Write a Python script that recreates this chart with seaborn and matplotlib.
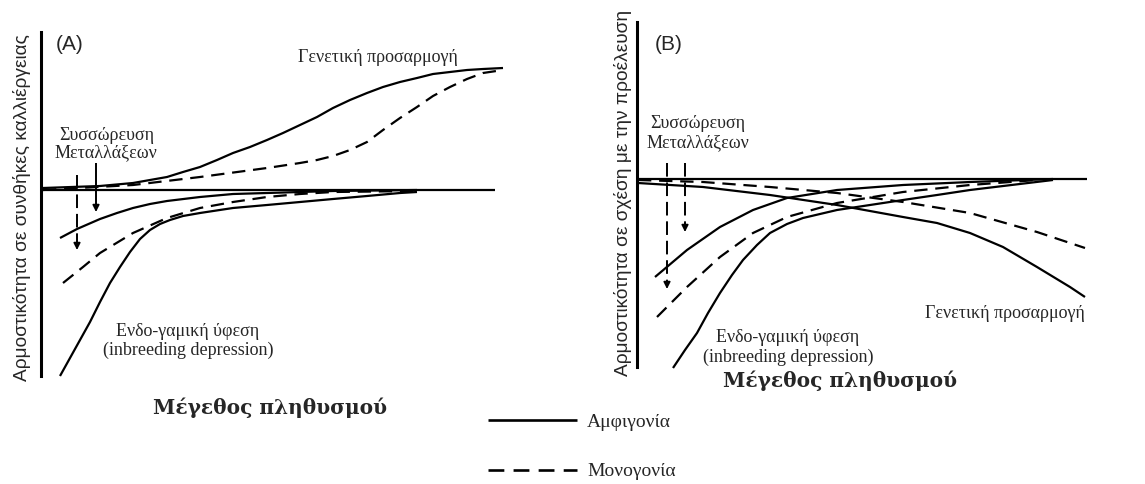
import numpy as np
import pandas as pd
import matplotlib
matplotlib.use("Agg")
import matplotlib.pyplot as plt
from matplotlib.lines import Line2D
import seaborn as sns

# ---- schematic fitness curves (population size vs. relative fitness, arbitrary units) ----
# Panel A: fitness under cultivation conditions
a_base_x = [0, 454]
a_base_y = [0, 0]
a_adapt_sex_x = [2, 59, 92, 109, 126, 142, 159, 176, 192, 209, 226, 242, 259, 276, 292, 309,
                 326, 342, 359, 376, 392, 409, 426, 442, 462]
a_adapt_sex_y = [2, 4, 7, 10, 13, 18, 23, 30, 37, 43, 50, 57, 65, 73, 82, 90,
                 97, 103, 108, 112, 116, 118, 120, 121, 122]
a_adapt_asex_x = [2, 92, 159, 226, 259, 276, 292, 309, 326, 342, 359, 376, 392, 409, 426, 442, 462]
a_adapt_asex_y = [0, 5, 13, 22, 27, 30, 34, 40, 48, 60, 72, 83, 94, 103, 111, 117, 120]
a_mut_sex_x = [19, 36, 59, 76, 92, 109, 126, 159, 192, 226, 292, 376]
a_mut_sex_y = [-48, -39, -29, -23, -18, -14, -11, -7, -4, -3, -1, 0]
a_mut_asex_x = [22, 42, 59, 92, 126, 159, 192, 226, 259, 292, 376]
a_mut_asex_y = [-93, -77, -63, -43, -28, -18, -12, -7, -4, -2, -1]
a_inbr_x = [19, 29, 39, 49, 59, 69, 79, 89, 99, 109, 119, 129, 142, 159, 192, 226, 259, 292,
            326, 359, 376]
a_inbr_y = [-186, -168, -150, -132, -112, -93, -77, -62, -49, -40, -34, -30, -26, -23, -18,
            -15, -12, -9, -6, -3, -2]

# Panel B: fitness relative to the source population
b_base_x = [0, 450]
b_base_y = [0, 0]
b_adapt_sex_x = [1, 66, 133, 200, 266, 300, 333, 366, 400, 433, 448]
b_adapt_sex_y = [-4, -8, -16, -26, -38, -44, -54, -68, -88, -108, -118]
b_adapt_asex_x = [1, 66, 133, 200, 266, 333, 400, 448]
b_adapt_asex_y = [-1, -3, -8, -14, -23, -34, -53, -69]
b_mut_sex_x = [18, 50, 83, 116, 150, 200, 266, 333, 416]
b_mut_sex_y = [-98, -71, -48, -31, -19, -11, -6, -3, 0]
b_mut_asex_x = [20, 50, 83, 116, 150, 200, 266, 333, 400]
b_mut_asex_y = [-138, -108, -78, -54, -38, -24, -13, -6, -1]
b_inbr_x = [36, 48, 60, 71, 83, 95, 106, 120, 133, 150, 166, 200, 233, 266, 300, 333, 416]
b_inbr_y = [-189, -171, -154, -134, -114, -96, -81, -66, -54, -45, -39, -31, -26, -21, -16,
            -11, -1]

mode_labels = ["Αμφιγονία", "Μονογονία"]

curves = [
    ("A", "base", mode_labels[0], a_base_x, a_base_y),
    ("A", "adapt_sex", mode_labels[0], a_adapt_sex_x, a_adapt_sex_y),
    ("A", "adapt_asex", mode_labels[1], a_adapt_asex_x, a_adapt_asex_y),
    ("A", "mut_sex", mode_labels[0], a_mut_sex_x, a_mut_sex_y),
    ("A", "mut_asex", mode_labels[1], a_mut_asex_x, a_mut_asex_y),
    ("A", "inbr", mode_labels[0], a_inbr_x, a_inbr_y),
    ("B", "base", mode_labels[0], b_base_x, b_base_y),
    ("B", "adapt_sex", mode_labels[0], b_adapt_sex_x, b_adapt_sex_y),
    ("B", "adapt_asex", mode_labels[1], b_adapt_asex_x, b_adapt_asex_y),
    ("B", "mut_sex", mode_labels[0], b_mut_sex_x, b_mut_sex_y),
    ("B", "mut_asex", mode_labels[1], b_mut_asex_x, b_mut_asex_y),
    ("B", "inbr", mode_labels[0], b_inbr_x, b_inbr_y),
]
rows = []
for panel, name, mode, xs, ys in curves:
    for i, (x, y) in enumerate(zip(xs, ys)):
        rows.append(dict(panel=panel, curve=name, mode=mode, x=x, y=y, order=i))
df = pd.DataFrame(rows)

sns.set_theme(style="white")
plt.rcParams["font.family"] = ["Liberation Serif", "DejaVu Serif"]
plt.rcParams["lines.solid_capstyle"] = "butt"

W, H = 1145, 484
fig = plt.figure(figsize=(W / 100, H / 100), dpi=100)


def rect(l, t, r, b):
    return [l / W, 1 - b / H, (r - l) / W, (b - t) / H]


def fxy(x, y):
    return x / W, 1 - y / H


DASH = (6, 3.5)
LW = 1.6
axes = {
    "A": (fig.add_axes(rect(41, 32, 515, 376)), (0, 474), (-186, 158)),
    "B": (fig.add_axes(rect(637, 22, 1100, 367)), (0, 463), (-188, 157)),
}
for panel, (ax, xl, yl) in axes.items():
    sub = df[df.panel == panel]
    sns.lineplot(data=sub, x="x", y="y", units="curve", estimator=None, sort=False,
                 style="mode", dashes={mode_labels[0]: "", mode_labels[1]: DASH},
                 color="black", linewidth=LW, legend=False, ax=ax)
    ax.set_xlim(*xl)
    ax.set_ylim(*yl)
    ax.set_xticks([])
    ax.set_yticks([])
    ax.set_xlabel("")
    ax.set_ylabel("")
    ax.patch.set_alpha(0)
    for s in ["top", "right", "bottom"]:
        ax.spines[s].set_visible(False)
    ax.spines["left"].set_color("black")
    ax.spines["left"].set_linewidth(2.2)
    for ln in ax.get_lines():
        ln.set_clip_on(False)
        ln.set_solid_joinstyle("round")


def arrow(ax, x, y0, y1, dashed):
    # shaft plus a small solid head
    ax.plot([x, x], [y0, y1 + 6], color="black", lw=1.4,
            ls=(0, (7, 3)) if dashed else "-", clip_on=False)
    ax.annotate("", xy=(x, y1), xytext=(x, y1 + 8),
                arrowprops=dict(arrowstyle="-|>", color="black", lw=1.2,
                                mutation_scale=10, shrinkA=0, shrinkB=0))


axA = axes["A"][0]
axB = axes["B"][0]
arrow(axA, 36, 15, -60, True)
arrow(axA, 55, 27, -22, False)
arrow(axB, 30, 16, -110, True)
arrow(axB, 48, 16, -53, True)

serif = ["Liberation Serif", "DejaVu Serif"]
sans = ["Liberation Sans", "DejaVu Sans"]
bold_serif = ["DejaVu Serif"]


def label(x, y, s, size=13, family=serif, **kw):
    fig.text(*fxy(x, y), s, ha="center", va="center", fontsize=size, family=family, **kw)


# Panel A text
label(70, 45, "(A)", 15, sans)
label(378, 57, "Γενετική προσαρμογή")
label(107, 135, "Συσσώρευση")
label(106, 153, "Μεταλλάξεων")
label(188, 332, "Ενδο-γαμική ύφεση")
label(188, 350, "(inbreeding depression)")
label(22, 208, "Αρμοστικότητα σε συνθήκες καλλιέργειας", 13.8, sans, rotation=90)
label(270, 408, "Μέγεθος πληθυσμού", 14.5, bold_serif, fontweight="bold")

# Panel B text
label(669, 45, "(B)", 15, sans)
label(698, 124, "Συσσώρευση")
label(698, 143, "Μεταλλάξεων")
label(1005, 313, "Γενετική προσαρμογή")
label(788, 338, "Ενδο-γαμική ύφεση")
label(788, 357, "(inbreeding depression)")
label(623, 193, "Αρμοστικότητα σε σχέση με την προέλευση", 13.8, sans, rotation=90)
label(840, 381, "Μέγεθος πληθυσμού", 14.5, bold_serif, fontweight="bold")

# legend for reproduction mode
handles = [Line2D([], [], color="black", lw=LW + 0.3),
           Line2D([], [], color="black", lw=LW + 0.3, dashes=DASH)]
fig.legend(handles, mode_labels, loc="upper left", bbox_to_anchor=fxy(488, 413),
           frameon=False, handlelength=4.6, handletextpad=0.5, labelspacing=1.65,
           borderpad=0, borderaxespad=0, prop=dict(family=serif, size=14))

fig.savefig("out.png", dpi=100, facecolor="white")
